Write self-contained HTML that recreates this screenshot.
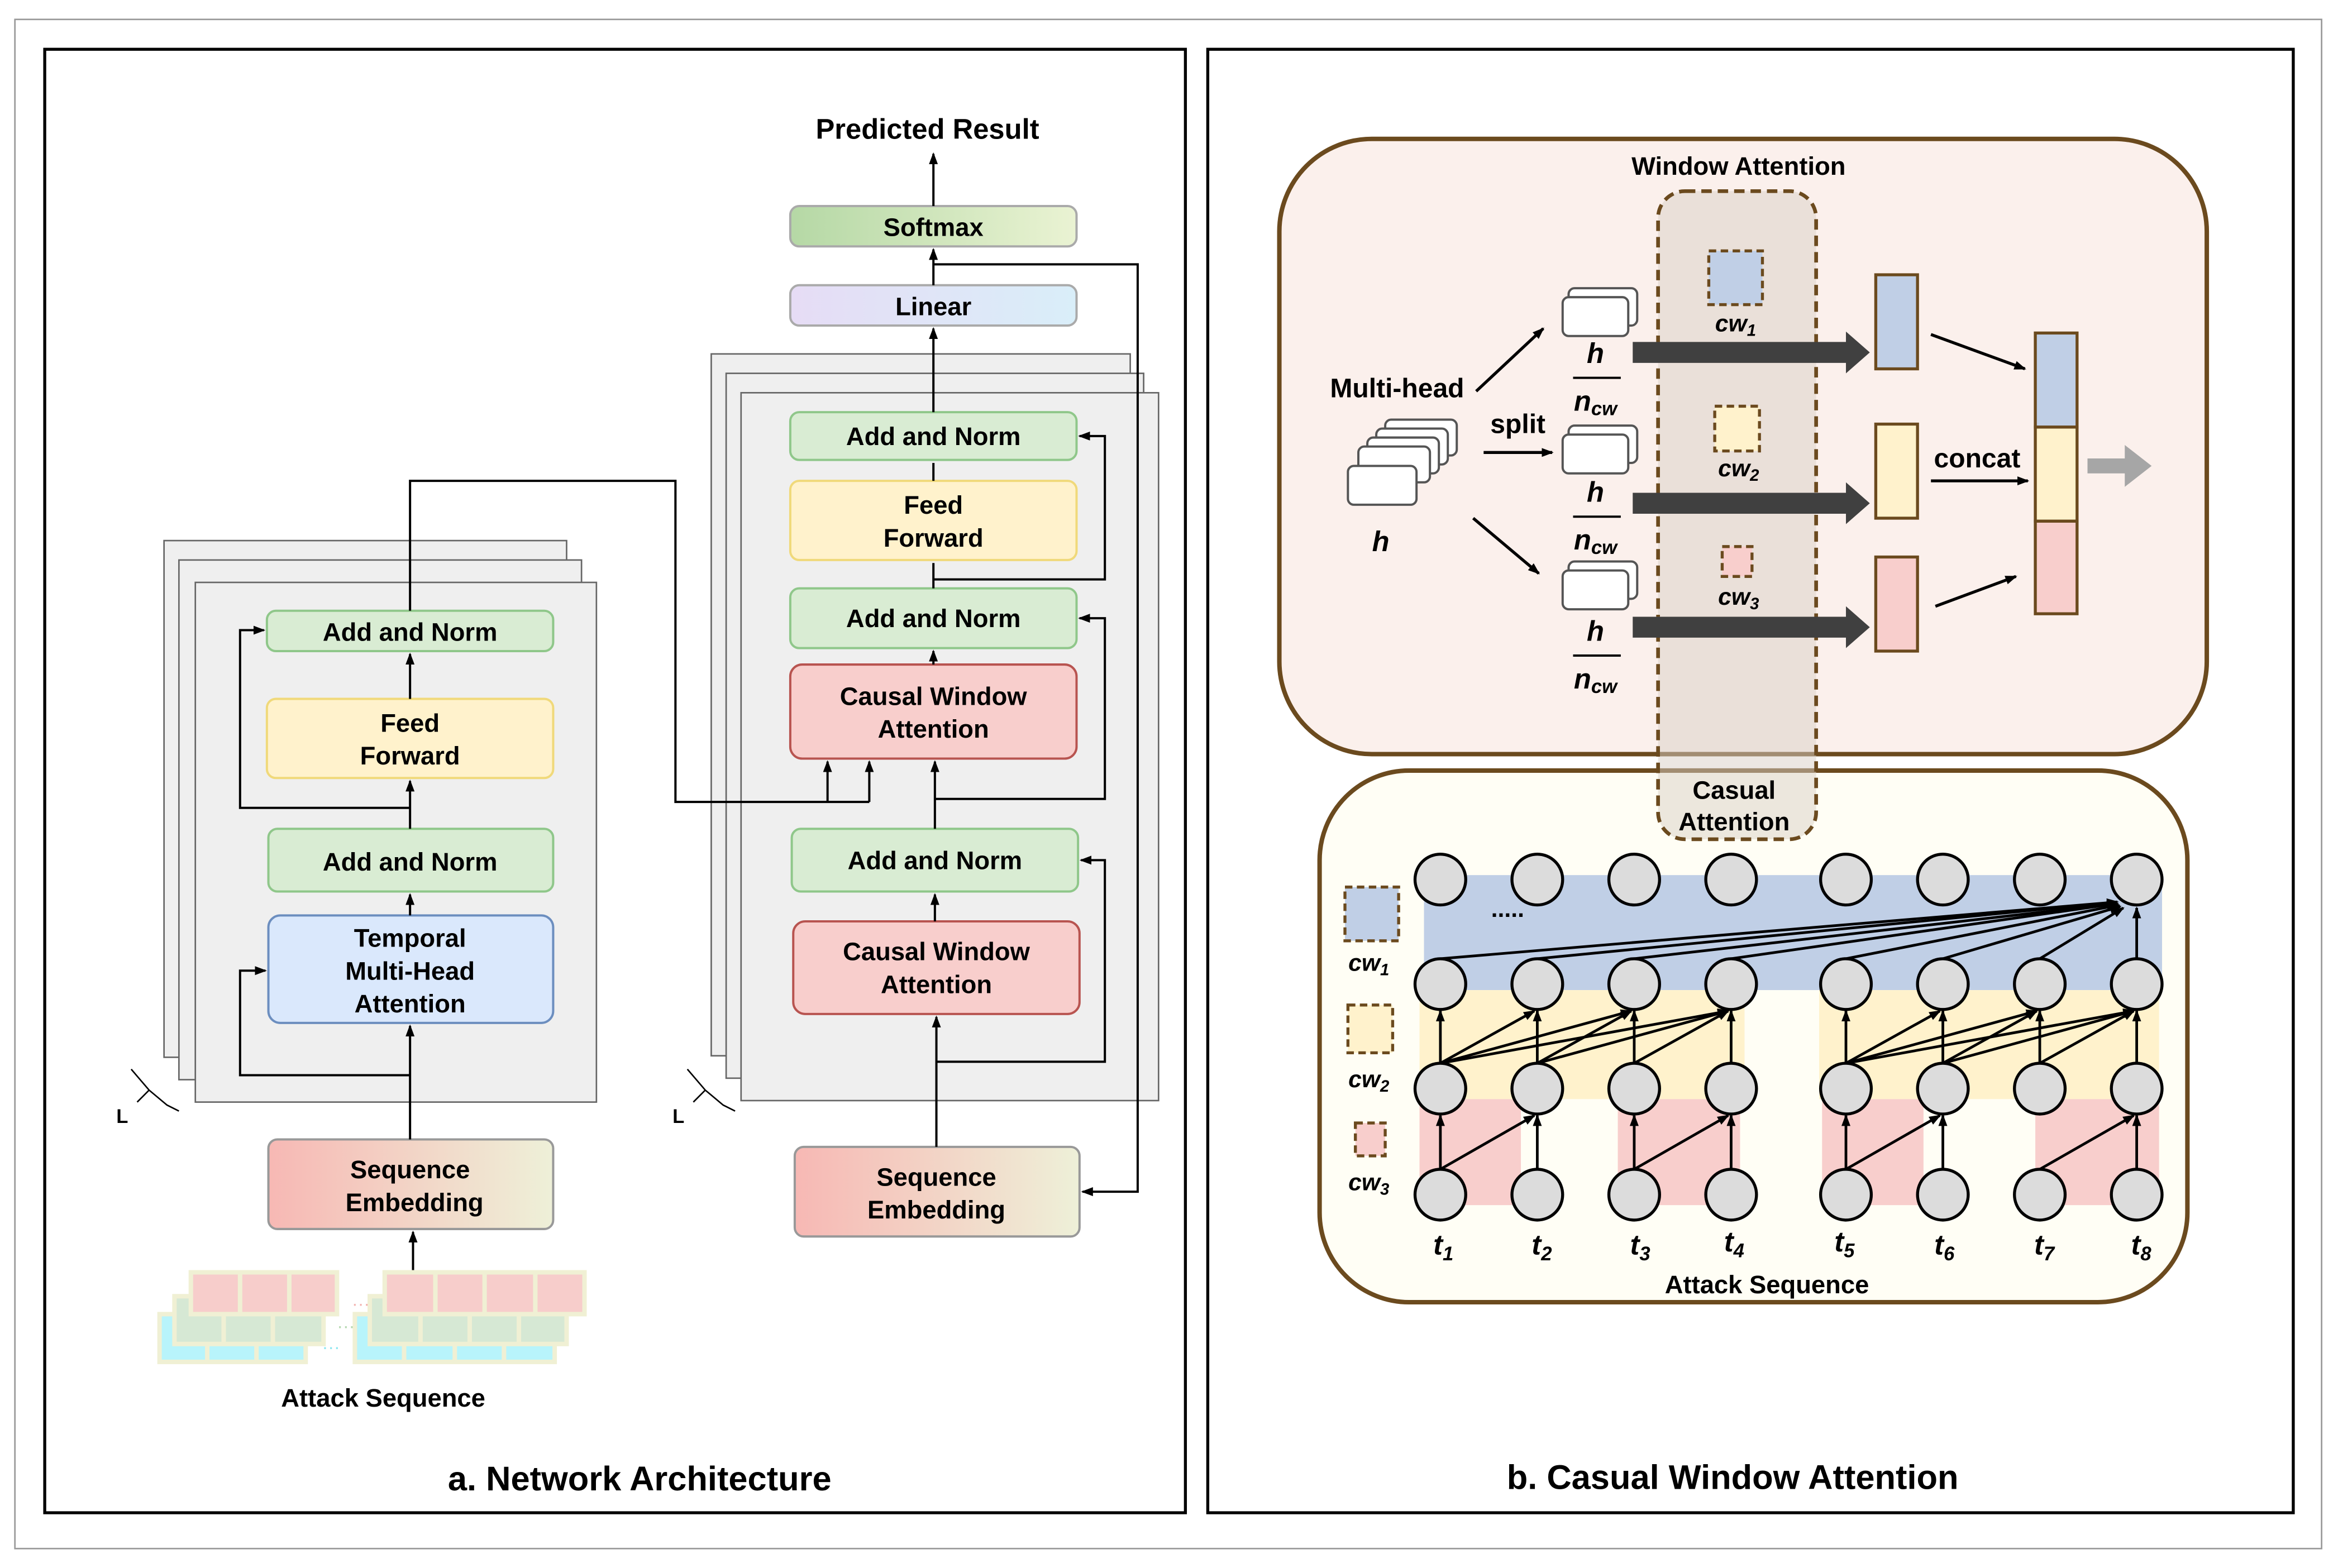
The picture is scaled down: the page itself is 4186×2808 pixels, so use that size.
<!DOCTYPE html>
<html><head><meta charset="utf-8"><style>html,body{margin:0;padding:0;background:#fff}svg{display:block}text{font-family:"Liberation Sans",sans-serif}</style></head><body>
<svg width="4186" height="2808" viewBox="0 0 1568 1050" preserveAspectRatio="none" xmlns="http://www.w3.org/2000/svg">
<defs>
<marker id="a" markerWidth="8" markerHeight="8" refX="7" refY="4" orient="auto" markerUnits="userSpaceOnUse"><path d="M0,1 L8,4 L0,7 z" fill="#000"/></marker>
<linearGradient id="emb" x1="0" x2="1"><stop offset="0" stop-color="#f7b8b4"/><stop offset="1" stop-color="#eef0d8"/></linearGradient>
<linearGradient id="sm" x1="0" x2="1"><stop offset="0" stop-color="#b5d8a5"/><stop offset="1" stop-color="#eaf3d3"/></linearGradient>
<linearGradient id="ln" x1="0" x2="1"><stop offset="0" stop-color="#e6dcf5"/><stop offset="1" stop-color="#d9eef9"/></linearGradient>
</defs>
<rect x="10" y="13" width="1547" height="1024" fill="none" stroke="#999" stroke-width="1"/>
<rect x="30" y="33" width="765" height="980" fill="#fff" stroke="#000" stroke-width="2"/>
<rect x="810" y="33" width="728" height="980" fill="#fff" stroke="#000" stroke-width="2"/>

<g fill="#efefef" stroke="#666" stroke-width="1">
<rect x="110" y="362" width="270" height="346"/><rect x="120" y="375" width="270" height="348"/><rect x="131" y="390" width="269" height="348"/>
<rect x="477" y="237" width="281" height="470"/><rect x="487" y="250" width="280" height="472"/><rect x="497" y="263" width="280" height="474"/>
</g>
<g font-size="17" font-weight="bold" text-anchor="middle">
<rect x="179" y="409" width="192" height="27" rx="6" fill="#d9ecd3" stroke="#8fc78a" stroke-width="1.5"/><text x="275" y="429">Add and Norm</text>
<rect x="179" y="468" width="192" height="53" rx="6" fill="#fff2cc" stroke="#f0d97a" stroke-width="1.5"/><text x="275" y="490">Feed</text><text x="275" y="512">Forward</text>
<rect x="180" y="555" width="191" height="42" rx="6" fill="#d9ecd3" stroke="#8fc78a" stroke-width="1.5"/><text x="275" y="583">Add and Norm</text>
<rect x="180" y="613" width="191" height="72" rx="8" fill="#dae8fc" stroke="#6c8ebf" stroke-width="1.5"/><text x="275" y="634">Temporal</text><text x="275" y="656">Multi-Head</text><text x="275" y="678">Attention</text>
<rect x="180" y="763" width="191" height="60" rx="6" fill="url(#emb)" stroke="#999" stroke-width="1.5"/><text x="275" y="789">Sequence</text><text x="278" y="811">Embedding</text>

<rect x="530" y="138" width="192" height="27" rx="6" fill="url(#sm)" stroke="#aaa" stroke-width="1.5"/><text x="626" y="158">Softmax</text>
<rect x="530" y="191" width="192" height="27" rx="6" fill="url(#ln)" stroke="#aaa" stroke-width="1.5"/><text x="626" y="211">Linear</text>
<rect x="530" y="276" width="192" height="32" rx="6" fill="#d9ecd3" stroke="#8fc78a" stroke-width="1.5"/><text x="626" y="298">Add and Norm</text>
<rect x="530" y="322" width="192" height="53" rx="6" fill="#fff2cc" stroke="#f0d97a" stroke-width="1.5"/><text x="626" y="344">Feed</text><text x="626" y="366">Forward</text>
<rect x="530" y="394" width="192" height="40" rx="6" fill="#d9ecd3" stroke="#8fc78a" stroke-width="1.5"/><text x="626" y="420">Add and Norm</text>
<rect x="530" y="445" width="192" height="63" rx="8" fill="#f8cecc" stroke="#b85450" stroke-width="1.5"/><text x="626" y="472">Causal Window</text><text x="626" y="494">Attention</text>
<rect x="531" y="555" width="192" height="42" rx="6" fill="#d9ecd3" stroke="#8fc78a" stroke-width="1.5"/><text x="627" y="582">Add and Norm</text>
<rect x="532" y="617" width="192" height="62" rx="8" fill="#f8cecc" stroke="#b85450" stroke-width="1.5"/><text x="628" y="643">Causal Window</text><text x="628" y="665">Attention</text>
<rect x="533" y="768" width="191" height="60" rx="6" fill="url(#emb)" stroke="#999" stroke-width="1.5"/><text x="628" y="794">Sequence</text><text x="628" y="816">Embedding</text>
<text x="622" y="93" font-size="19">Predicted Result</text>
<text x="257" y="942" font-size="17">Attack Sequence</text>
<text x="429" y="998" font-size="23">a. Network Architecture</text>
<text x="1162" y="997" font-size="23">b. Casual Window Attention</text>
</g>

<g stroke="#000" stroke-width="1.5" fill="none">
<line x1="277" y1="852" x2="277" y2="825" marker-end="url(#a)"/>
<line x1="275" y1="763" x2="275" y2="687" marker-end="url(#a)"/>
<polyline points="275,720 161,720 161,650 178,650" marker-end="url(#a)"/>
<line x1="275" y1="613" x2="275" y2="599" marker-end="url(#a)"/>
<line x1="275" y1="555" x2="275" y2="523" marker-end="url(#a)"/>
<polyline points="275,541 161,541 161,422 177,422" marker-end="url(#a)"/>
<line x1="275" y1="468" x2="275" y2="438" marker-end="url(#a)"/>
<polyline points="275,409 275,322 453,322 453,537 583,537"/>
<line x1="555" y1="537" x2="555" y2="510" marker-end="url(#a)"/>
<line x1="583" y1="537" x2="583" y2="510" marker-end="url(#a)"/>
<line x1="628" y1="768" x2="628" y2="681" marker-end="url(#a)"/>
<polyline points="628,711 741,711 741,576 725,576" marker-end="url(#a)"/>
<line x1="627" y1="617" x2="627" y2="599" marker-end="url(#a)"/>
<line x1="627" y1="555" x2="627" y2="510" marker-end="url(#a)"/>
<polyline points="627,535 741,535 741,414 724,414" marker-end="url(#a)"/>
<line x1="626" y1="445" x2="626" y2="436" marker-end="url(#a)"/>
<line x1="626" y1="394" x2="626" y2="377"/>
<polyline points="626,388 741,388 741,292 724,292" marker-end="url(#a)"/>
<line x1="626" y1="322" x2="626" y2="310"/>
<line x1="626" y1="276" x2="626" y2="220" marker-end="url(#a)"/>
<polyline points="626,177 763,177 763,798 726,798" marker-end="url(#a)"/>
<line x1="626" y1="191" x2="626" y2="167" marker-end="url(#a)"/>
<line x1="626" y1="138" x2="626" y2="103" marker-end="url(#a)"/>
<polyline points="88,716 100,730 112,740 120,744" stroke-width="1"/><polyline points="100,730 92,738" stroke-width="1"/>
<polyline points="461,716 473,730 485,740 493,744" stroke-width="1"/><polyline points="473,730 465,738" stroke-width="1"/>
</g>
<text x="82" y="752" font-size="13" font-weight="bold" text-anchor="middle">L</text>
<text x="455" y="752" font-size="13" font-weight="bold" text-anchor="middle">L</text>

<g stroke="#f0f0d4" stroke-width="3">
<rect x="107" y="880" width="98" height="32" fill="#b8f4fb"/><rect x="238" y="880" width="134" height="32" fill="#b8f4fb"/>
<rect x="117" y="868" width="100" height="32" fill="#d6e8d4"/><rect x="248" y="868" width="132" height="32" fill="#d6e8d4"/>
<rect x="128" y="852" width="98" height="28" fill="#f7cdcb"/><rect x="258" y="852" width="134" height="28" fill="#f7cdcb"/>
<line x1="161" y1="852" x2="161" y2="880"/><line x1="194" y1="852" x2="194" y2="880"/><line x1="292" y1="852" x2="292" y2="880"/><line x1="325" y1="852" x2="325" y2="880"/><line x1="359" y1="852" x2="359" y2="880"/>
<line x1="150" y1="880" x2="150" y2="900"/><line x1="183" y1="880" x2="183" y2="900"/><line x1="282" y1="880" x2="282" y2="900"/><line x1="315" y1="880" x2="315" y2="900"/><line x1="348" y1="880" x2="348" y2="900"/>
<line x1="139" y1="900" x2="139" y2="912"/><line x1="172" y1="900" x2="172" y2="912"/><line x1="271" y1="900" x2="271" y2="912"/><line x1="305" y1="900" x2="305" y2="912"/><line x1="338" y1="900" x2="338" y2="912"/>
</g>
<text x="242" y="877" font-size="12" fill="#f3b5b2" text-anchor="middle">···</text>
<text x="232" y="892" font-size="12" fill="#b5d8b0" text-anchor="middle">···</text>
<text x="222" y="906" font-size="12" fill="#8de6f0" text-anchor="middle">···</text>

<rect x="858" y="93" width="622" height="412" rx="62" fill="#fbf0ec" stroke="#6b4a1e" stroke-width="3"/>
<rect x="885" y="516" width="582" height="356" rx="60" fill="#fffef5" stroke="#6b4a1e" stroke-width="3"/>
<rect x="1112" y="128" width="106" height="434" rx="18" fill="#d9cfc6" fill-opacity="0.5" stroke="#6b4a1e" stroke-width="2.5" stroke-dasharray="7,4"/>
<g font-size="17" text-anchor="middle" font-weight="bold">
<text x="1166" y="117">Window Attention</text>
<text x="1163" y="535">Casual</text><text x="1163" y="556">Attention</text>
<text x="937" y="266" font-size="18">Multi-head</text>
<text x="1018" y="290" font-size="18">split</text>
<text x="1326" y="313" font-size="18">concat</text>
<text x="1185" y="866">Attack Sequence</text>
</g>
<g fill="#fff" stroke="#555" stroke-width="1.5">
<rect x="929" y="281" width="48" height="24" rx="4"/><rect x="923" y="287" width="48" height="24" rx="4"/><rect x="917" y="293" width="48" height="24" rx="4"/><rect x="911" y="299" width="48" height="24" rx="4"/><rect x="904" y="312" width="46" height="26" rx="4"/>
<rect x="1052" y="193" width="46" height="25" rx="4"/><rect x="1048" y="199" width="44" height="26" rx="4"/>
<rect x="1052" y="285" width="46" height="25" rx="4"/><rect x="1048" y="291" width="44" height="26" rx="4"/>
<rect x="1052" y="376" width="46" height="25" rx="4"/><rect x="1048" y="382" width="44" height="26" rx="4"/>
</g>
<g font-family="Liberation Serif" font-style="italic" font-weight="bold" font-size="19" text-anchor="middle">
<text x="926" y="369" font-family="Liberation Serif">h</text>
<text x="1070" y="243" font-family="Liberation Serif">h</text><text x="1070" y="275" font-family="Liberation Serif">n<tspan font-size="13" dy="3">cw</tspan></text>
<text x="1070" y="336" font-family="Liberation Serif">h</text><text x="1070" y="368" font-family="Liberation Serif">n<tspan font-size="13" dy="3">cw</tspan></text>
<text x="1070" y="429" font-family="Liberation Serif">h</text><text x="1070" y="461" font-family="Liberation Serif">n<tspan font-size="13" dy="3">cw</tspan></text>
<text x="1164" y="222" font-size="16" font-family="Liberation Serif">cw<tspan font-size="11" dy="3">1</tspan></text>
<text x="1166" y="319" font-size="16" font-family="Liberation Serif">cw<tspan font-size="11" dy="3">2</tspan></text>
<text x="1166" y="405" font-size="16" font-family="Liberation Serif">cw<tspan font-size="11" dy="3">3</tspan></text>
<text x="918" y="650" font-size="16" font-family="Liberation Serif">cw<tspan font-size="11" dy="3">1</tspan></text>
<text x="918" y="728" font-size="16" font-family="Liberation Serif">cw<tspan font-size="11" dy="3">2</tspan></text>
<text x="918" y="797" font-size="16" font-family="Liberation Serif">cw<tspan font-size="11" dy="3">3</tspan></text>
<text x="968" y="840" font-family="Liberation Serif">t<tspan font-size="13" dy="4">1</tspan></text>
<text x="1034" y="840" font-family="Liberation Serif">t<tspan font-size="13" dy="4">2</tspan></text>
<text x="1100" y="840" font-family="Liberation Serif">t<tspan font-size="13" dy="4">3</tspan></text>
<text x="1163" y="838" font-family="Liberation Serif">t<tspan font-size="13" dy="4">4</tspan></text>
<text x="1237" y="838" font-family="Liberation Serif">t<tspan font-size="13" dy="4">5</tspan></text>
<text x="1304" y="840" font-family="Liberation Serif">t<tspan font-size="13" dy="4">6</tspan></text>
<text x="1371" y="840" font-family="Liberation Serif">t<tspan font-size="13" dy="4">7</tspan></text>
<text x="1436" y="840" font-family="Liberation Serif">t<tspan font-size="13" dy="4">8</tspan></text>
</g>
<g stroke="#000" stroke-width="2" fill="none">
<line x1="990" y1="262" x2="1035" y2="220" marker-end="url(#a)"/>
<line x1="995" y1="303" x2="1041" y2="303" marker-end="url(#a)"/>
<line x1="988" y1="347" x2="1032" y2="384" marker-end="url(#a)"/>
<line x1="1055" y1="253" x2="1087" y2="253" stroke-width="1.5"/><line x1="1055" y1="346" x2="1087" y2="346" stroke-width="1.5"/><line x1="1055" y1="439" x2="1087" y2="439" stroke-width="1.5"/>
<line x1="1295" y1="224" x2="1358" y2="247" marker-end="url(#a)"/>
<line x1="1295" y1="322" x2="1360" y2="322" marker-end="url(#a)"/>
<line x1="1298" y1="406" x2="1352" y2="386" marker-end="url(#a)"/>
</g>
<g fill="#404040">
<path d="M1095,229 H1238 V222 L1254,236 L1238,250 V243 H1095 z"/>
<path d="M1095,330 H1238 V323 L1254,337 L1238,351 V344 H1095 z"/>
<path d="M1095,413 H1238 V406 L1254,420 L1238,434 V427 H1095 z"/>
</g>
<path d="M1400,307 H1425 V298 L1443,312 L1425,326 V317 H1400 z" fill="#a6a6a6"/>
<g stroke="#6b4a1e" stroke-width="2" stroke-dasharray="5,3">
<rect x="1146" y="168" width="36" height="36" fill="#c0cfe6"/><rect x="1150" y="272" width="30" height="30" fill="#fff2cc"/><rect x="1155" y="366" width="20" height="20" fill="#f8cecc"/>
<rect x="902" y="594" width="36" height="36" fill="#c0cfe6"/><rect x="904" y="673" width="30" height="32" fill="#fff2cc"/><rect x="909" y="752" width="20" height="22" fill="#f8cecc"/>
</g>
<g stroke="#6b4a1e" stroke-width="2">
<rect x="1258" y="184" width="28" height="63" fill="#c0cfe6"/><rect x="1258" y="284" width="28" height="63" fill="#fff2cc"/><rect x="1258" y="373" width="28" height="63" fill="#f8cecc"/>
<rect x="1365" y="223" width="28" height="63" fill="#c0cfe6"/><rect x="1365" y="286" width="28" height="63" fill="#fff2cc"/><rect x="1365" y="349" width="28" height="62" fill="#f8cecc"/>
</g>

<rect x="955" y="586" width="495" height="77" fill="#c0cfe6"/>
<rect x="952" y="663" width="218" height="73" fill="#fff2cc"/><rect x="1220" y="663" width="228" height="73" fill="#fff2cc"/>
<rect x="952" y="736" width="68" height="71" fill="#f8cecc"/><rect x="1085" y="736" width="82" height="71" fill="#f8cecc"/><rect x="1222" y="736" width="68" height="71" fill="#f8cecc"/><rect x="1365" y="736" width="83" height="71" fill="#f8cecc"/>
<text x="1000" y="614" font-size="16" font-weight="bold">.....</text>

<g stroke="#000" stroke-width="1.8" marker-end="url(#a)">
<line x1="966" y1="642" x2="1420" y2="604"/><line x1="1031" y1="642" x2="1420" y2="604"/><line x1="1096" y1="642" x2="1420" y2="605"/><line x1="1161" y1="642" x2="1420" y2="605"/><line x1="1238" y1="642" x2="1421" y2="606"/><line x1="1303" y1="642" x2="1422" y2="607"/><line x1="1368" y1="642" x2="1424" y2="608"/><line x1="1433" y1="642" x2="1433" y2="608"/>
<line x1="966" y1="712" x2="966" y2="677"/><line x1="966" y1="712" x2="1029" y2="677"/><line x1="966" y1="712" x2="1094" y2="677"/><line x1="966" y1="712" x2="1159" y2="677"/>
<line x1="1031" y1="712" x2="1031" y2="677"/><line x1="1031" y1="712" x2="1094" y2="677"/><line x1="1031" y1="712" x2="1159" y2="677"/>
<line x1="1096" y1="712" x2="1096" y2="677"/><line x1="1096" y1="712" x2="1159" y2="677"/><line x1="1161" y1="712" x2="1161" y2="677"/>
<line x1="1238" y1="712" x2="1238" y2="677"/><line x1="1238" y1="712" x2="1301" y2="677"/><line x1="1238" y1="712" x2="1366" y2="677"/><line x1="1238" y1="712" x2="1431" y2="677"/>
<line x1="1303" y1="712" x2="1303" y2="677"/><line x1="1303" y1="712" x2="1366" y2="677"/><line x1="1303" y1="712" x2="1431" y2="677"/>
<line x1="1368" y1="712" x2="1368" y2="677"/><line x1="1368" y1="712" x2="1431" y2="677"/><line x1="1433" y1="712" x2="1433" y2="677"/>
<line x1="966" y1="783" x2="966" y2="747"/><line x1="966" y1="783" x2="1029" y2="747"/><line x1="1031" y1="783" x2="1031" y2="747"/>
<line x1="1096" y1="783" x2="1096" y2="747"/><line x1="1096" y1="783" x2="1159" y2="747"/><line x1="1161" y1="783" x2="1161" y2="747"/>
<line x1="1238" y1="783" x2="1238" y2="747"/><line x1="1238" y1="783" x2="1301" y2="747"/><line x1="1303" y1="783" x2="1303" y2="747"/>
<line x1="1368" y1="783" x2="1431" y2="747"/><line x1="1433" y1="783" x2="1433" y2="747"/>
</g>
<g fill="#dcdcdc" stroke="#000" stroke-width="2">
<circle cx="966" cy="589" r="17"/><circle cx="1031" cy="589" r="17"/><circle cx="1096" cy="589" r="17"/><circle cx="1161" cy="589" r="17"/><circle cx="1238" cy="589" r="17"/><circle cx="1303" cy="589" r="17"/><circle cx="1368" cy="589" r="17"/><circle cx="1433" cy="589" r="17"/>
<circle cx="966" cy="659" r="17"/><circle cx="1031" cy="659" r="17"/><circle cx="1096" cy="659" r="17"/><circle cx="1161" cy="659" r="17"/><circle cx="1238" cy="659" r="17"/><circle cx="1303" cy="659" r="17"/><circle cx="1368" cy="659" r="17"/><circle cx="1433" cy="659" r="17"/>
<circle cx="966" cy="729" r="17"/><circle cx="1031" cy="729" r="17"/><circle cx="1096" cy="729" r="17"/><circle cx="1161" cy="729" r="17"/><circle cx="1238" cy="729" r="17"/><circle cx="1303" cy="729" r="17"/><circle cx="1368" cy="729" r="17"/><circle cx="1433" cy="729" r="17"/>
<circle cx="966" cy="800" r="17"/><circle cx="1031" cy="800" r="17"/><circle cx="1096" cy="800" r="17"/><circle cx="1161" cy="800" r="17"/><circle cx="1238" cy="800" r="17"/><circle cx="1303" cy="800" r="17"/><circle cx="1368" cy="800" r="17"/><circle cx="1433" cy="800" r="17"/>
</g>
</svg>
</body></html>
